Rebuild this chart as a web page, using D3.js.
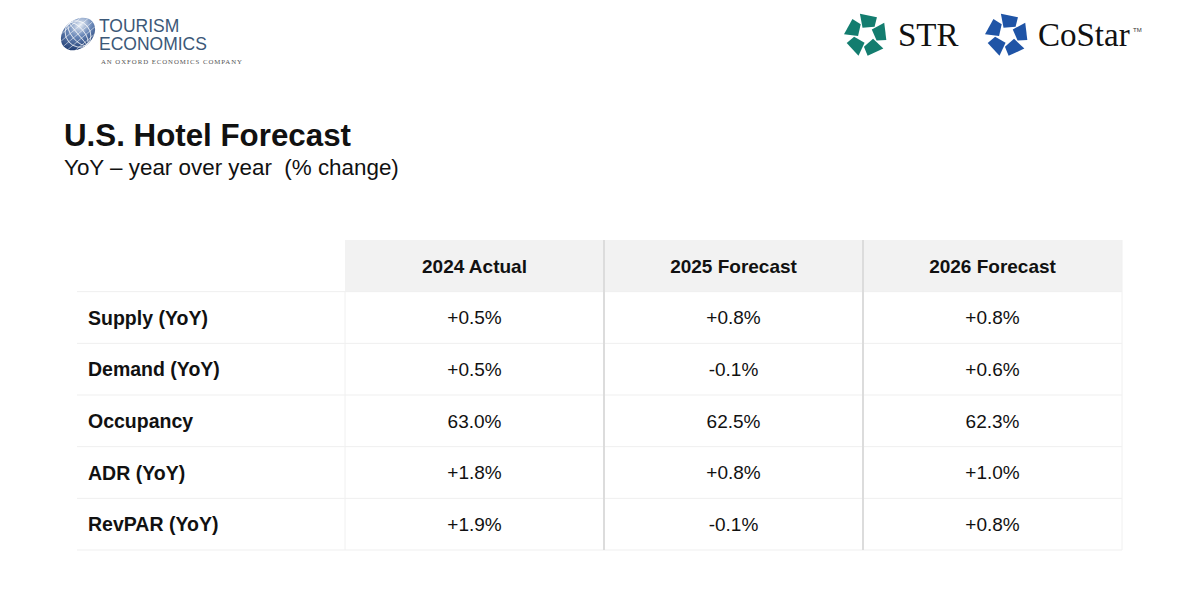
<!DOCTYPE html>
<html>
<head>
<meta charset="utf-8">
<script src="https://cdn.jsdelivr.net/npm/d3@7"></script>
<style>
  body { margin: 0; background: #fff; }
  svg { display: block; font-family: "Liberation Sans", Arial, sans-serif; }
</style>
</head>
<body>
<div class="canvas"></div>
<script>
// table data
const columns = ["2024 Actual", "2025 Forecast", "2026 Forecast"];
const metrics = ["Supply (YoY)", "Demand (YoY)", "Occupancy", "ADR (YoY)", "RevPAR (YoY)"];
const actual2024 = ["+0.5%", "+0.5%", "63.0%", "+1.8%", "+1.9%"];
const forecast2025 = ["+0.8%", "-0.1%", "62.5%", "+0.8%", "-0.1%"];
const forecast2026 = ["+0.8%", "+0.6%", "62.3%", "+1.0%", "+0.8%"];
const seriesValues = [actual2024, forecast2025, forecast2026];

const width = 1200, height = 600;
const svg = d3.select(".canvas").append("svg")
    .attr("width", width)
    .attr("height", height);

//title
svg.append("text")
    .attr("x", 64).attr("y", 146)
    .attr("font-size", 31.3).attr("font-weight", "bold")
    .attr("fill", "#111")
    .text("U.S. Hotel Forecast");
svg.append("text")
    .attr("x", 64).attr("y", 175)
    .attr("font-size", 22.4)
    .attr("fill", "#111")
    .text("YoY \u2013 year over year \u00a0(% change)");

//scales for the table
const labelLeft = 77;
const x = d3.scaleBand().domain(columns).range([345, 1122]);
const y = d3.scaleBand().domain(["header", ...metrics]).range([240, 550]);

const table = svg.append("g");

//header background
table.append("rect")
    .attr("x", x.range()[0]).attr("y", y("header"))
    .attr("width", x.range()[1] - x.range()[0])
    .attr("height", y.bandwidth())
    .attr("fill", "#f2f2f2");

//row lines
table.selectAll("line.row")
    .data(metrics.concat(["end"]))
    .enter().append("line")
    .attr("class", "row")
    .attr("x1", labelLeft).attr("x2", x.range()[1])
    .attr("y1", d => d === "end" ? y.range()[1] : y(d))
    .attr("y2", d => d === "end" ? y.range()[1] : y(d))
    .attr("stroke", "#efefef").attr("stroke-width", 1);

//column lines
table.selectAll("line.col")
    .data(columns.concat(["end"]))
    .enter().append("line")
    .attr("class", "col")
    .attr("x1", d => d === "end" ? x.range()[1] : x(d))
    .attr("x2", d => d === "end" ? x.range()[1] : x(d))
    .attr("y1", (d, i) => i === 0 ? y(metrics[0]) : y("header"))
    .attr("y2", y.range()[1])
    .attr("stroke", (d, i) => (i === 1 || i === 2) ? "#dcdcdc" : "#f0f0f0")
    .attr("stroke-width", (d, i) => (i === 1 || i === 2) ? 2 : 1);

//header labels
table.selectAll("text.head")
    .data(columns)
    .enter().append("text")
    .attr("class", "head")
    .attr("x", d => x(d) + x.bandwidth() / 2)
    .attr("y", y("header") + y.bandwidth() / 2)
    .attr("dy", "0.36em")
    .attr("text-anchor", "middle")
    .attr("font-size", 19).attr("font-weight", "bold")
    .attr("fill", "#111")
    .text(d => d);

//row labels
table.selectAll("text.metric")
    .data(metrics)
    .enter().append("text")
    .attr("class", "metric")
    .attr("x", 88)
    .attr("y", d => y(d) + y.bandwidth() / 2)
    .attr("dy", "0.36em")
    .attr("font-size", 19.5).attr("font-weight", "bold")
    .attr("fill", "#111")
    .text(d => d);

//values
seriesValues.forEach((vals, c) => {
  table.selectAll("text.v" + c)
    .data(vals)
    .enter().append("text")
    .attr("class", "v" + c)
    .attr("x", x(columns[c]) + x.bandwidth() / 2)
    .attr("y", (d, i) => y(metrics[i]) + y.bandwidth() / 2)
    .attr("dy", "0.36em")
    .attr("text-anchor", "middle")
    .attr("font-size", 19)
    .attr("fill", "#111")
    .text(d => d);
});

//logos
const defs = svg.append("defs");
const grad = defs.append("radialGradient").attr("id", "globe")
    .attr("cx", "70%").attr("cy", "30%").attr("r", "80%");
grad.append("stop").attr("offset", "0%").attr("stop-color", "#e8eef6");
grad.append("stop").attr("offset", "45%").attr("stop-color", "#6a88b8");
grad.append("stop").attr("offset", "100%").attr("stop-color", "#1d3a70");

const globe = svg.append("g").attr("transform", "translate(78,34) rotate(-40)");
globe.append("ellipse").attr("rx", 19).attr("ry", 14).attr("fill", "url(#globe)");
const clip = defs.append("clipPath").attr("id", "gclip");
clip.append("ellipse").attr("rx", 19).attr("ry", 14);
const grid = globe.append("g").attr("clip-path", "url(#gclip)")
    .attr("stroke", "#ffffff").attr("stroke-opacity", 0.6).attr("stroke-width", 0.8).attr("fill", "none");
[-12, -6, 0, 6, 12].forEach(v => {
  grid.append("ellipse").attr("cx", 0).attr("cy", 0).attr("rx", Math.abs(v) + 0.1).attr("ry", 14);
  grid.append("line").attr("x1", -19).attr("x2", 19).attr("y1", v * 0.9).attr("y2", v * 0.9);
});

svg.append("text").attr("x", 99).attr("y", 32)
    .attr("font-size", 17.5).attr("fill", "#3b5878").text("TOURISM");
svg.append("text").attr("x", 99).attr("y", 50)
    .attr("font-size", 17.5).attr("fill", "#3b5878").text("ECONOMICS");
svg.append("text").attr("x", 101).attr("y", 64)
    .attr("font-size", 6.8).attr("font-family", "Liberation Serif, serif")
    .attr("letter-spacing", 0.95).attr("fill", "#555").text("AN OXFORD ECONOMICS COMPANY");

function starMark(cx, cy, color) {
  const g = svg.append("g").attr("transform", `translate(${cx},${cy})`);
  const r1 = 8, r2 = 22;
  for (let k = 0; k < 5; k++) {
    const a = (k * 72 - 90) * Math.PI / 180;
    const p = [
      [r1 * Math.cos(a - 0.45), r1 * Math.sin(a - 0.45)],
      [r2 * Math.cos(a - 0.28), r2 * Math.sin(a - 0.28)],
      [r2 * 0.95 * Math.cos(a + 0.55), r2 * 0.95 * Math.sin(a + 0.55)],
      [r1 * 1.5 * Math.cos(a + 0.8), r1 * 1.5 * Math.sin(a + 0.8)]
    ];
    g.append("path").attr("d", "M" + p.join("L") + "Z").attr("fill", color);
  }
}
starMark(866, 35, "#137d6f");
svg.append("text").attr("x", 898).attr("y", 46)
    .attr("font-size", 33).attr("font-family", "Liberation Serif, serif")
    .attr("fill", "#111").text("STR");
starMark(1007, 35, "#1f54a6");
svg.append("text").attr("x", 1038).attr("y", 46)
    .attr("font-size", 33).attr("font-family", "Liberation Serif, serif")
    .attr("fill", "#111").text("CoStar");
svg.append("text").attr("x", 1133).attr("y", 32)
    .attr("font-size", 6).attr("fill", "#333").text("TM");
</script>
</body>
</html>
